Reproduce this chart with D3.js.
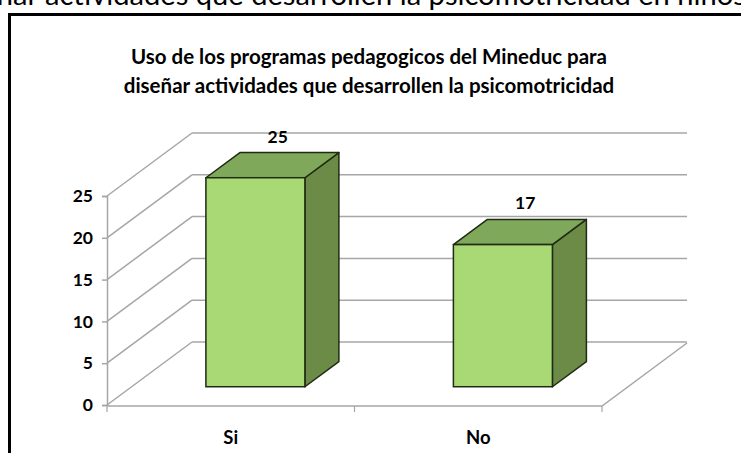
<!DOCTYPE html>
<html>
<head>
<meta charset="utf-8">
<script src="https://cdn.jsdelivr.net/npm/d3@7"></script>
<style>
  body { margin: 0; background: #fff; }
  svg { display: block; }
  text { font-family: Lato, "Open Sans", sans-serif; }
</style>
</head>
<body>
<div id="container"></div>
<script>
const width = 741,
      height = 453;

// chart data
const categories = ["Si", "No"];
const values = [25, 17];
const yTicks = [0, 5, 10, 15, 20, 25];
const titleLines = [
  "Uso de los programas pedagogicos del Mineduc para",
  "diseñar actividades que desarrollen la psicomotricidad"
];
const pageText = "diseñar actividades que desarrollen la psicomotricidad en niños";

// 3d look: how far the back wall sits from the front plane
const depth = { dx: 85, dy: -63 };
const barDepth = [0.29, 0.69];   // bar front / back as a fraction of depth

const svg = d3.select("#container")
  .append("svg")
  .attr("width", width)
  .attr("height", height);

// text of the document behind the chart, cut at the top
const pageLine = svg.append("text")
  .attr("y", 5)
  .style("font-size", "25px")
  .style("fill", "#000")
  .text(pageText);
// fit "actividades ... psicomotricidad" to span x 45 -> 631 like the picture
let n = pageLine.node();
const w0 = n.getSubStringLength(8, 46);
pageLine.style("font-size", (25 * 586 / w0) + "px");
const prefix = n.getSubStringLength(0, 8);
pageLine.attr("x", 45 - prefix);

// chart frame
svg.append("rect")
  .attr("x", 9.5)
  .attr("y", 14.5)
  .attr("width", 800)
  .attr("height", 500)
  .attr("fill", "#fff")
  .attr("stroke", "#000")
  .attr("stroke-width", 3);

// scales
const xScale = d3.scaleBand()
  .domain(categories)
  .range([107, 602])
  .padding(0);

const yScale = d3.scaleLinear()
  .domain([0, 25])
  .range([405, 196]);

const gridColor = "#a6a6a6";

// side wall diagonals + back wall gridlines
const grid = svg.append("g");
yTicks.forEach(t => {
  const y = yScale(t);
  grid.append("line")
    .attr("x1", xScale.range()[0]).attr("y1", y)
    .attr("x2", xScale.range()[0] + depth.dx).attr("y2", y + depth.dy)
    .attr("stroke", gridColor).attr("stroke-width", 1.5);
  grid.append("line")
    .attr("x1", xScale.range()[0] + depth.dx).attr("y1", y + depth.dy)
    .attr("x2", xScale.range()[1] + depth.dx).attr("y2", y + depth.dy)
    .attr("stroke", gridColor).attr("stroke-width", 1.5);
});

// floor: front edge and right edge
const y0 = yScale(0) + 1;
grid.append("path")
  .attr("d", `M${xScale.range()[0]},${y0}L${xScale.range()[1]},${y0}L${xScale.range()[1] + depth.dx},${y0 + depth.dy}`)
  .attr("fill", "none")
  .attr("stroke", gridColor)
  .attr("stroke-width", 1.5);

// category ticks on the floor edge
const xTickPos = [xScale.range()[0], ...categories.slice(1).map(c => xScale(c)), xScale.range()[1]];
xTickPos.forEach(x => {
  grid.append("line")
    .attr("x1", x).attr("y1", y0)
    .attr("x2", x).attr("y2", y0 + 6)
    .attr("stroke", gridColor).attr("stroke-width", 1.2);
});

// value axis
const yAxis = svg.append("g")
  .attr("transform", `translate(${xScale.range()[0]},0)`)
  .call(d3.axisLeft(yScale).tickValues(yTicks).tickSize(5).tickPadding(9))
  .call(g => g.select(".domain").attr("stroke", gridColor).attr("stroke-width", 1.5))
  .call(g => g.selectAll(".tick line").attr("stroke", gridColor).attr("stroke-width", 1.5));
yAxis.selectAll(".tick text")
  .style("font-family", "Lato, sans-serif")
  .style("font-size", "17.5px")
  .style("font-weight", "bold")
  .attr("fill", "#000");

// bars
const barW = xScale.bandwidth() * 0.4;
const colors = { front: "#a8d974", top: "#80a85a", side: "#6b8b47", stroke: "#1f2b12" };

const bars = svg.selectAll("g.bar")
  .data(categories.map((c, i) => ({ cat: c, value: values[i] })))
  .enter()
  .append("g")
  .attr("class", "bar");

bars.each(function(d) {
  const g = d3.select(this);
  const cx = xScale(d.cat) + xScale.bandwidth() / 2;
  const fx = barDepth[0] * depth.dx, fy = barDepth[0] * depth.dy;
  const bx = barDepth[1] * depth.dx, by = barDepth[1] * depth.dy;
  const l = cx - barW / 2, r = cx + barW / 2;
  const yb = yScale(0), yt = yScale(d.value);

  const pts = a => a.map(p => p.join(",")).join(" ");

  // right side
  g.append("polygon")
    .attr("points", pts([[r + fx, yt + fy], [r + bx, yt + by], [r + bx, yb + by], [r + fx, yb + fy]]))
    .attr("fill", colors.side).attr("stroke", colors.stroke).attr("stroke-width", 1.5)
    .attr("stroke-linejoin", "round");
  // top
  g.append("polygon")
    .attr("points", pts([[l + fx, yt + fy], [l + bx, yt + by], [r + bx, yt + by], [r + fx, yt + fy]]))
    .attr("fill", colors.top).attr("stroke", colors.stroke).attr("stroke-width", 1.5)
    .attr("stroke-linejoin", "round");
  // front
  g.append("rect")
    .attr("x", l + fx).attr("y", yt + fy)
    .attr("width", barW).attr("height", yb - yt)
    .attr("fill", colors.front).attr("stroke", colors.stroke).attr("stroke-width", 1.5);

  // value label
  g.append("text")
    .attr("x", cx + 47)
    .attr("y", yt + by - 10)
    .attr("text-anchor", "middle")
    .style("font-size", "17.5px")
    .style("font-weight", "bold")
    .text(d.value);
});

// category labels
svg.selectAll("text.cat")
  .data(categories)
  .enter()
  .append("text")
  .attr("class", "cat")
  .attr("x", d => xScale(d) + xScale.bandwidth() / 2)
  .attr("y", 444)
  .attr("text-anchor", "middle")
  .style("font-size", "18.5px")
  .style("font-weight", "bold")
  .text(d => d);

// title
svg.append("g")
  .selectAll("text")
  .data(titleLines)
  .enter()
  .append("text")
  .attr("x", 369)
  .attr("y", (d, i) => 64 + i * 29)
  .attr("text-anchor", "middle")
  .style("font-size", "20.5px")
  .style("font-weight", "bold")
  .text(d => d);
</script>
</body>
</html>
